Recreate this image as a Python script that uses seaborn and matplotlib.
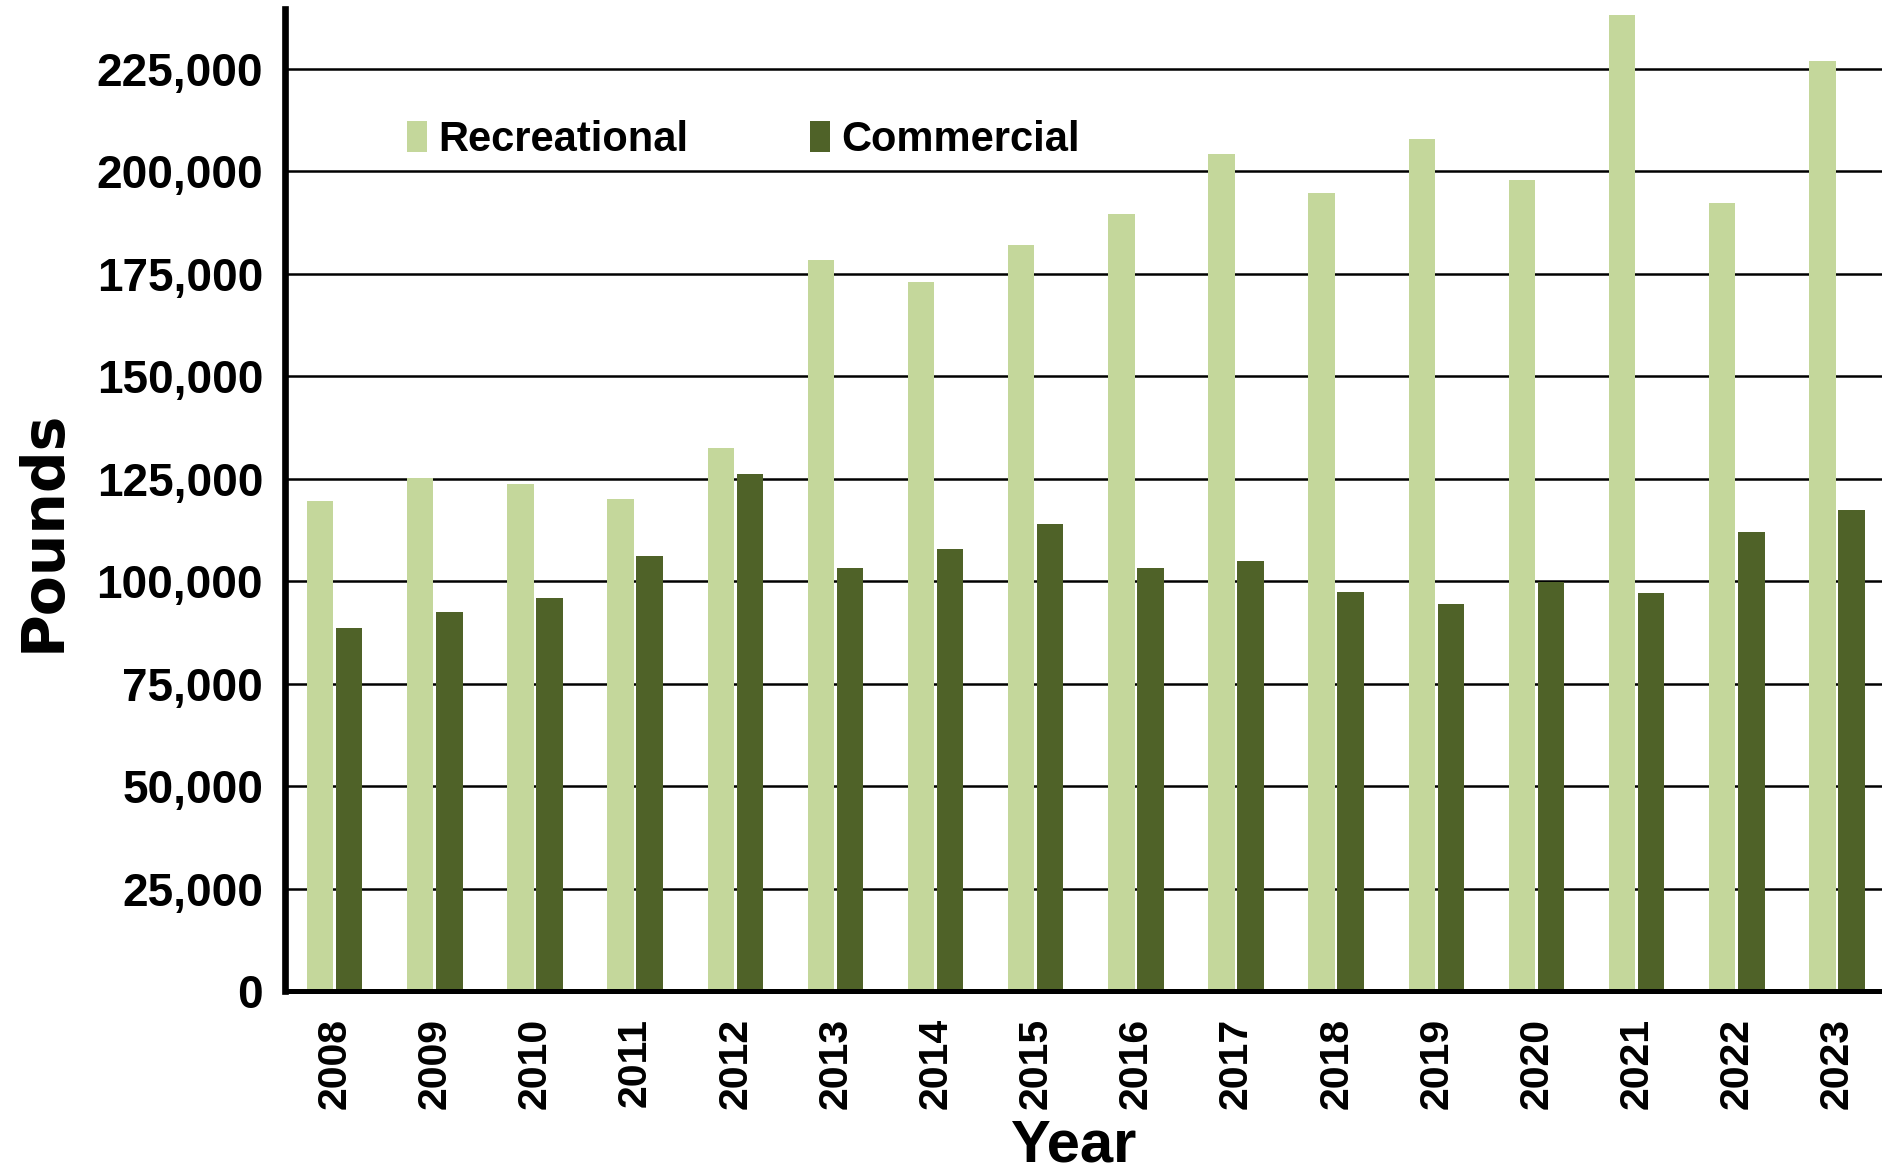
import numpy as np
import pandas as pd
import matplotlib
matplotlib.use("Agg")
import matplotlib.pyplot as plt
from matplotlib.ticker import FuncFormatter, FixedLocator
import seaborn as sns

# data
years = [str(y) for y in range(2008, 2024)]
recreational = [119700, 125200, 123800, 120000, 132600, 178500, 172900, 182000,
                189600, 204200, 194600, 208000, 197800, 238200, 192200, 226800]
commercial = [88700, 92500, 96000, 106200, 126100, 103300, 108000, 114100,
              103300, 105000, 97400, 94500, 99800, 97100, 112100, 117300]
sectors = ["Recreational", "Commercial"]
colors = ["#C4D79B", "#4F6228"]
yticks = list(range(0, 225001, 25000))

df = pd.DataFrame({
    "Year": years * 2,
    "Pounds": recreational + commercial,
    "Sector": [sectors[0]] * len(years) + [sectors[1]] * len(years),
})

sns.set_style("white")
font = ["Liberation Sans", "DejaVu Sans"]
plt.rcParams["font.family"] = font
plt.rcParams["font.weight"] = "bold"
plt.rcParams["text.color"] = "black"
plt.rcParams["axes.labelcolor"] = "black"
plt.rcParams["xtick.color"] = "black"
plt.rcParams["ytick.color"] = "black"

fig = plt.figure(figsize=(18.82, 11.76), dpi=100)
ax = fig.add_axes([0.1512, 0.157, 1 - 0.1512, 0.992 - 0.157])

ax.yaxis.grid(True, color="black", linewidth=1.8)
ax.set_axisbelow(True)

sns.barplot(data=df, x="Year", y="Pounds", hue="Sector", palette=colors,
            saturation=1, width=0.58, gap=0.09, linewidth=0, ax=ax)

ax.set_xlim(-0.5, 15.45)
ax.set_ylim(0, 239500)
ax.set_yticks(yticks)
ax.yaxis.set_major_formatter(FuncFormatter(lambda v, p: f"{int(v):,}"))
for lab in ax.get_yticklabels():
    lab.set_fontsize(33)
    lab.set_fontweight("bold")
ax.tick_params(axis="y", direction="out", length=9, width=5.5, pad=6.5,
               colors="black", labelcolor="black")

# year labels at category centres, tick marks at category boundaries
ax.set_xticks(range(len(years)))
ax.set_xticklabels(years, rotation=90, fontsize=29.5, fontweight="bold")
ax.tick_params(axis="x", which="major", length=0, pad=19, labelcolor="black")
ax.xaxis.set_minor_locator(FixedLocator(np.arange(-0.5, len(years), 1.0)))
ax.tick_params(axis="x", which="minor", direction="out", length=9, width=3,
               colors="black")

for side in ["top", "right"]:
    ax.spines[side].set_visible(False)
ax.spines["left"].set_linewidth(4.8)
ax.spines["bottom"].set_linewidth(3.6)
for side in ["left", "bottom"]:
    ax.spines[side].set_color("black")

ax.set_xlabel("")
ax.set_ylabel("")
fig.text(0.023, 0.549, "Pounds", rotation=90, ha="center", va="center",
         fontsize=42, fontweight="bold", family=["DejaVu Sans"], color="black")
fig.text(0.570, 0.012, "Year", ha="center", va="baseline", fontsize=43,
         fontweight="bold", color="black")

handles, labels = ax.get_legend_handles_labels()
leg = ax.legend(handles, labels, loc="center left", bbox_to_anchor=(0.216, 0.881),
                bbox_transform=fig.transFigure, ncol=2, frameon=False,
                prop={"weight": "bold", "size": 30},
                handlelength=0.5, handleheight=0.77, handletextpad=0.27,
                columnspacing=2.9, borderpad=0, borderaxespad=0)
for t in leg.get_texts():
    t.set_color("black")

fig.savefig("out.png", dpi=100)
